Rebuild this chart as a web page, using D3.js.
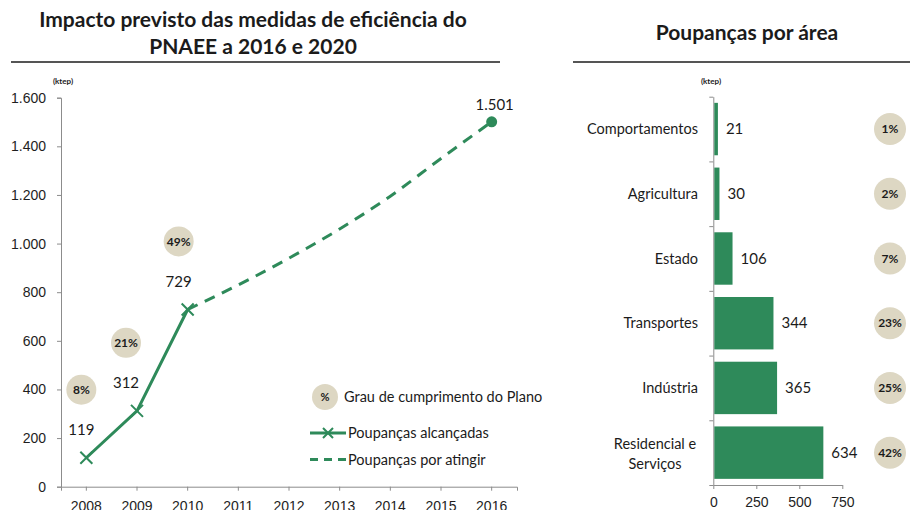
<!DOCTYPE html>
<html>
<head>
<meta charset="utf-8">
<script src="https://cdn.jsdelivr.net/npm/d3@7"></script>
<style>
  body { margin: 0; background: #fff; }
  svg { display: block; font-family: Lato, "Open Sans", sans-serif; }
  .axis path, .axis line { stroke: #8c8c8c; }
  .axis text { fill: #1e1e1e; font-size: 14px; }
</style>
</head>
<body>
<svg id="chart" width="910" height="510"></svg>
<script>
// left chart: savings over time (ktep)
const years = [2008, 2009, 2010, 2011, 2012, 2013, 2014, 2015, 2016];
const achievedYears = [2008, 2009, 2010];
const achievedValues = [119, 312, 729];
const achievedShare = ["8%", "21%", "49%"];
const targetYears = [2010, 2011, 2012, 2013, 2014, 2015, 2016];
const targetValues = [729, 830, 940, 1060, 1195, 1350, 1501];
const yTicks = [0, 200, 400, 600, 800, 1000, 1200, 1400, 1600];

// right chart: savings by area
const areas = ["Comportamentos", "Agricultura", "Estado", "Transportes", "Indústria", "Residencial e Serviços"];
const areaValues = [21, 30, 106, 344, 365, 634];
const areaShare = ["1%", "2%", "7%", "23%", "25%", "42%"];
const xTicksRight = [0, 250, 500, 750];

const GREEN = "#2e8a5a";
const BEIGE = "#ddd7c3";
const INK = "#1b1b1b";

const pt = d3.formatLocale({ decimal: ",", thousands: ".", grouping: [3], currency: ["", "€"] });
const fmt = pt.format(",");

const svg = d3.select("#chart");

// ---------- titles ----------
function title(x, lines, y0) {
  const t = svg.append("text")
    .attr("text-anchor", "middle")
    .attr("font-weight", 700)
    .attr("font-size", 21)
    .attr("fill", INK);
  lines.forEach((l, i) => {
    t.append("tspan").attr("x", x).attr("y", y0 + i * 27).text(l);
  });
}
title(253, ["Impacto previsto das medidas de eficiência do", "PNAEE a 2016 e 2020"], 27);
title(747, ["Poupanças por área"], 40);

svg.append("line").attr("x1", 11).attr("x2", 500).attr("y1", 62).attr("y2", 62)
  .attr("stroke", "#555").attr("stroke-width", 2);
svg.append("line").attr("x1", 573).attr("x2", 910).attr("y1", 62).attr("y2", 62)
  .attr("stroke", "#555").attr("stroke-width", 2);

// ---------- left line chart ----------
const x = d3.scaleBand().domain(years).range([61, 517]);
const y = d3.scaleLinear().domain([0, 1600]).range([486.7, 97.7]);
const cx = (yr) => x(yr) + x.bandwidth() / 2;

svg.append("g")
  .attr("class", "axis")
  .attr("transform", "translate(61,0)")
  .call(d3.axisLeft(y).tickValues(yTicks).tickFormat(fmt).tickSize(4).tickPadding(11))
  .call((g) => g.selectAll("text").attr("font-size", 15));

svg.append("g")
  .attr("class", "axis")
  .attr("transform", "translate(0,486.7)")
  .call(d3.axisBottom(x).tickSize(4).tickPadding(10))
  .call((g) => g.selectAll("text").attr("font-size", 15));

svg.append("text").attr("x", 63).attr("y", 84).attr("text-anchor", "middle")
  .attr("font-size", 8).attr("font-weight", 700).attr("fill", INK).text("(ktep)");

const line = d3.line().x((d) => cx(d[0])).y((d) => y(d[1]));
const lineCurve = d3.line().curve(d3.curveMonotoneX).x((d) => cx(d[0])).y((d) => y(d[1]));

svg.append("path")
  .datum(d3.zip(targetYears, targetValues))
  .attr("d", lineCurve)
  .attr("fill", "none")
  .attr("stroke", GREEN)
  .attr("stroke-width", 3)
  .attr("stroke-dasharray", "11,8");

svg.append("path")
  .datum(d3.zip(achievedYears, achievedValues))
  .attr("d", line)
  .attr("fill", "none")
  .attr("stroke", GREEN)
  .attr("stroke-width", 3);

const cross = (sel, s) => sel.append("path")
  .attr("d", `M${-s},${-s}L${s},${s}M${-s},${s}L${s},${-s}`)
  .attr("stroke", GREEN).attr("stroke-width", 2).attr("fill", "none");

const nudge = [-5, -11, -9];
achievedYears.forEach((yr, i) => {
  const px = cx(yr), py = y(achievedValues[i]);
  cross(svg.append("g").attr("transform", `translate(${px},${py})`), 6);
  svg.append("text").attr("x", px + nudge[i]).attr("y", py - 28)
    .attr("dy", "0.35em").attr("text-anchor", "middle")
    .attr("font-size", 15).attr("fill", INK).text(achievedValues[i]);
  const b = svg.append("g").attr("transform", `translate(${px + nudge[i]},${py - 68})`);
  b.append("circle").attr("r", 15).attr("fill", BEIGE);
  b.append("text").attr("dy", "0.35em").attr("text-anchor", "middle")
    .attr("font-size", 12).attr("font-weight", 700).attr("fill", INK).text(achievedShare[i]);
});

const last = targetValues.length - 1;
svg.append("circle")
  .attr("cx", cx(targetYears[last])).attr("cy", y(targetValues[last]))
  .attr("r", 5.5).attr("fill", GREEN);
svg.append("text")
  .attr("x", cx(targetYears[last]) + 3).attr("y", y(targetValues[last]) - 17)
  .attr("dy", "0.35em").attr("text-anchor", "middle")
  .attr("font-size", 15).attr("fill", INK).text(fmt(targetValues[last]));

// legend
const lg = svg.append("g");
lg.append("circle").attr("cx", 325).attr("cy", 397).attr("r", 13).attr("fill", BEIGE);
lg.append("text").attr("x", 325).attr("y", 397).attr("dy", "0.35em").attr("text-anchor", "middle")
  .attr("font-size", 11).attr("font-weight", 700).attr("fill", INK).text("%");
lg.append("text").attr("x", 344).attr("y", 397).attr("dy", "0.35em")
  .attr("font-size", 14.5).attr("fill", INK).text("Grau de cumprimento do Plano");

lg.append("line").attr("x1", 310).attr("x2", 346).attr("y1", 433).attr("y2", 433)
  .attr("stroke", GREEN).attr("stroke-width", 3);
cross(lg.append("g").attr("transform", "translate(328,433)"), 5);
lg.append("text").attr("x", 348).attr("y", 433).attr("dy", "0.35em")
  .attr("font-size", 14.5).attr("fill", INK).text("Poupanças alcançadas");

lg.append("line").attr("x1", 310).attr("x2", 346).attr("y1", 459.5).attr("y2", 459.5)
  .attr("stroke", GREEN).attr("stroke-width", 3).attr("stroke-dasharray", "8,6");
lg.append("text").attr("x", 348).attr("y", 459.5).attr("dy", "0.35em")
  .attr("font-size", 14.5).attr("fill", INK).text("Poupanças por atingir");

// ---------- right bar chart ----------
const yb = d3.scaleBand().domain(areas).range([96.7, 485]).paddingInner(0.19).paddingOuter(0.095);
const xb = d3.scaleLinear().domain([0, 750]).range([713.3, 842.3]);
const yIdx = d3.scaleLinear().domain([0, areas.length]).range([96.7, 485]);

svg.append("g")
  .attr("class", "axis")
  .attr("transform", "translate(713.3,0)")
  .call(d3.axisLeft(yIdx).tickValues(d3.range(areas.length + 1)).tickFormat("").tickSize(4).tickSizeOuter(0));

svg.append("g")
  .attr("class", "axis")
  .attr("transform", "translate(0,485)")
  .call(d3.axisBottom(xb).tickValues(xTicksRight).tickFormat(fmt).tickSize(4).tickSizeOuter(0).tickPadding(8))
  .call((g) => g.selectAll("text").attr("font-size", 15));

svg.append("text").attr("x", 711).attr("y", 84).attr("text-anchor", "middle")
  .attr("font-size", 8).attr("font-weight", 700).attr("fill", INK).text("(ktep)");

svg.selectAll(".bar")
  .data(areas)
  .join("rect")
  .attr("class", "bar")
  .attr("x", xb(0) + 1)
  .attr("y", (d) => yb(d))
  .attr("width", (d, i) => xb(areaValues[i]) - xb(0))
  .attr("height", yb.bandwidth())
  .attr("fill", GREEN);

svg.selectAll(".bar-label")
  .data(areas)
  .join("text")
  .attr("class", "bar-label")
  .attr("x", (d, i) => xb(areaValues[i]) + 9)
  .attr("y", (d) => yb(d) + yb.bandwidth() / 2)
  .attr("dy", "0.35em")
  .attr("font-size", 15)
  .attr("fill", INK)
  .text((d, i) => areaValues[i]);

// category labels; long one wraps on two centred lines, block right-aligned
areas.forEach((a) => {
  const cy = yb(a) + yb.bandwidth() / 2;
  if (a === "Residencial e Serviços") {
    const t = svg.append("text").attr("text-anchor", "middle").attr("font-size", 14.5).attr("fill", INK);
    t.append("tspan").attr("x", 655).attr("y", cy - 9).attr("dy", "0.35em").text("Residencial e");
    t.append("tspan").attr("x", 655).attr("y", cy + 11).attr("dy", "0.35em").text("Serviços");
  } else {
    svg.append("text").attr("x", 698).attr("y", cy).attr("dy", "0.35em")
      .attr("text-anchor", "end").attr("font-size", 14.5).attr("fill", INK).text(a);
  }
});

const pb = svg.selectAll(".share")
  .data(areas)
  .join("g")
  .attr("class", "share")
  .attr("transform", (d) => `translate(890,${yb(d) + yb.bandwidth() / 2})`);
pb.append("circle").attr("r", 16).attr("fill", BEIGE);
pb.append("text").attr("dy", "0.35em").attr("text-anchor", "middle")
  .attr("font-size", 12).attr("font-weight", 700).attr("fill", INK)
  .text((d, i) => areaShare[i]);
</script>
</body>
</html>
